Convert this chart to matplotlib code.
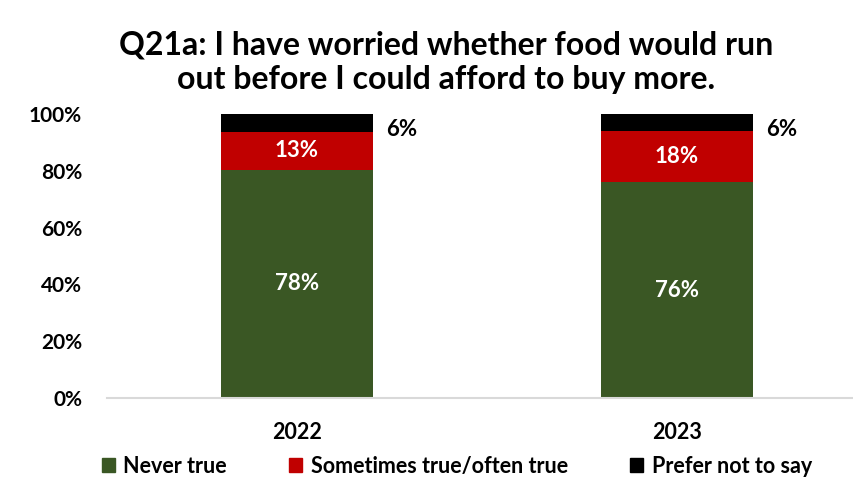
import numpy as np
import matplotlib
matplotlib.use("Agg")
import matplotlib.pyplot as plt
from matplotlib.patches import Patch

plt.rcParams["font.family"] = ["Lato", "DejaVu Sans"]
plt.rcParams["font.weight"] = "bold"

years = ["2022", "2023"]
never_true = [78, 76]
sometimes_true = [13, 18]
prefer_not = [6, 6]

series = [
    ("Never true", never_true, "#3A5724"),
    ("Sometimes true/often true", sometimes_true, "#C00000"),
    ("Prefer not to say", prefer_not, "#000000"),
]

# 100% stacked: each column scaled by its own total
vals = np.array([s[1] for s in series], dtype=float)
shares = vals / vals.sum(axis=0)

fig = plt.figure(figsize=(8.54, 4.82), dpi=100)
ax = fig.add_axes([0.1253, 0.1743, 0.8899, 0.589])

x = np.arange(len(years))
width = 0.4
bottom = np.zeros(len(years))
for (name, v, col), sh in zip(series, shares):
    ax.bar(x, sh, width, bottom=bottom, color=col, label=name, zorder=2)
    for i in range(len(years)):
        if name == "Prefer not to say":
            ax.text(x[i] + width / 2 + 0.035, bottom[i] + sh[i] / 2 - 0.025,
                    f"{v[i]}%", ha="left", va="center", fontsize=16,
                    color="black", fontweight="bold")
        else:
            ax.text(x[i], bottom[i] + sh[i] / 2, f"{v[i]}%", ha="center",
                    va="center", fontsize=16, color="white", fontweight="bold")
    bottom += sh

ax.set_xlim(-0.5, 1.5)
ax.set_ylim(0, 1)
ticks = np.arange(0, 1.01, 0.2)
ax.set_yticks(ticks)
ax.set_yticklabels([f"{int(round(t * 100))}%" for t in ticks],
                   fontsize=15, fontweight="bold")
ax.set_xticks(x)
ax.set_xticklabels(years, fontsize=15.5, fontweight="bold")
ax.tick_params(axis="both", length=0)
ax.tick_params(axis="y", pad=18)
ax.tick_params(axis="x", pad=17)
for side in ("top", "right", "left"):
    ax.spines[side].set_visible(False)
ax.spines["bottom"].set_color("#D9D9D9")
ax.spines["bottom"].set_linewidth(1.5)

fig.text(0.522, 0.907, "Q21a: I have worried whether food would run",
         ha="center", va="center", fontsize=23, fontweight="bold")
fig.text(0.522, 0.836, "out before I could afford to buy more.",
         ha="center", va="center", fontsize=23, fontweight="bold")

handles = [Patch(color=c, label=n) for n, _, c in series]
fig.legend(handles=handles, loc="center", bbox_to_anchor=(0.535, 0.033),
           ncol=3, frameon=False, fontsize=15.5, handlelength=0.6,
           handleheight=0.6, handletextpad=0.4, columnspacing=2.9)

fig.savefig("out.png", dpi=100)
